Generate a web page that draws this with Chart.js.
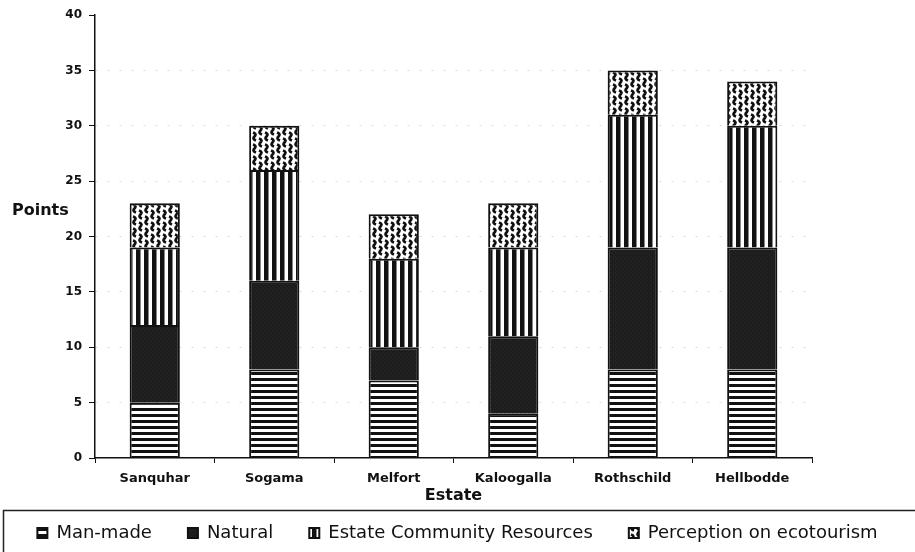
<!DOCTYPE html>
<html>
<head>
<meta charset="utf-8">
<script src="https://cdn.jsdelivr.net/npm/chart.js@4.4.1/dist/chart.umd.min.js"></script>
<style>
  html, body { margin: 0; padding: 0; background: #fff; }
</style>
</head>
<body>
<canvas id="chart1" width="915" height="552"></canvas>
<script>
// data
const estates = ['Sanquhar', 'Sogama', 'Melfort', 'Kaloogalla', 'Rothschild', 'Hellbodde'];
const manMade = [5, 8, 7, 4, 8, 8];
const natural = [7, 8, 3, 7, 11, 11];
const communityResources = [7, 10, 8, 8, 12, 11];
const perception = [4, 4, 4, 4, 4, 4];
const seriesNames = ['Man-made', 'Natural', 'Estate Community Resources', 'Perception on ecotourism'];
const yMin = 0;
const yMax = 40;
const yStep = 5;

// fill patterns, like the old black and white print
function makePattern(kind) {
    const c = document.createElement('canvas');
    const g = c.getContext('2d');
    if (kind === 'horizontal') {
        c.width = 6; c.height = 6;
        g.fillStyle = '#fff'; g.fillRect(0, 0, 6, 6);
        g.fillStyle = '#111'; g.fillRect(0, 0, 6, 3);
    } else if (kind === 'vertical') {
        c.width = 8; c.height = 8;
        g.fillStyle = '#fff'; g.fillRect(0, 0, 8, 8);
        g.fillStyle = '#111'; g.fillRect(0, 0, 4.5, 8);
    } else if (kind === 'wave') {
        c.width = 12; c.height = 12;
        g.fillStyle = '#fff'; g.fillRect(0, 0, 12, 12);
        g.strokeStyle = '#111'; g.lineWidth = 2.7;
        g.beginPath();
        for (let dy = -12; dy <= 12; dy += 12) {
            g.moveTo(1, 0.5 + dy); g.quadraticCurveTo(5, 2 + dy, 2.5, 4.5 + dy); g.quadraticCurveTo(0, 7 + dy, 4, 8.5 + dy);
            g.moveTo(7, 6.5 + dy); g.quadraticCurveTo(11, 8 + dy, 8.5, 10.5 + dy); g.quadraticCurveTo(6, 13 + dy, 10, 14.5 + dy);
        }
        g.stroke();
    } else {
        c.width = 4; c.height = 4;
        g.fillStyle = '#1d1d1d'; g.fillRect(0, 0, 4, 4);
        g.fillStyle = '#2b2b2b'; g.fillRect(1, 2, 1, 1); g.fillRect(3, 0, 1, 1);
    }
    return g.createPattern(c, 'repeat');
}

// frame round the legend and the horizontal "Points" label
const extras = {
    id: 'extras',
    afterDraw(chart) {
        const ctx = chart.ctx;
        ctx.save();
        ctx.strokeStyle = '#222';
        ctx.lineWidth = 1.5;
        ctx.strokeRect(3.5, 510.5, 930, 60);
        ctx.font = 'bold 16px "DejaVu Sans"';
        ctx.fillStyle = '#111';
        ctx.textAlign = 'left';
        ctx.textBaseline = 'middle';
        ctx.fillText('Points', 12, 211);
        ctx.restore();
    }
};

Chart.defaults.font.family = '"DejaVu Sans", sans-serif';
Chart.defaults.color = '#111';

const ctx = document.getElementById('chart1').getContext('2d');
const chart1 = new Chart(ctx, {
    type: 'bar',
    data: {
        labels: estates,
        datasets: [
            { label: seriesNames[0], data: manMade, backgroundColor: makePattern('horizontal') },
            { label: seriesNames[1], data: natural, backgroundColor: makePattern('solid') },
            { label: seriesNames[2], data: communityResources, backgroundColor: makePattern('vertical') },
            { label: seriesNames[3], data: perception, backgroundColor: makePattern('wave') }
        ].map(d => Object.assign(d, {
            borderColor: '#111',
            borderWidth: 2,
            barPercentage: 0.42,
            categoryPercentage: 1
        }))
    },
    options: {
        responsive: false,
        animation: false,
        devicePixelRatio: 1,
        layout: { padding: { top: 15, right: 0, left: 0, bottom: 0 } },
        plugins: {
            tooltip: { enabled: false },
            legend: {
                position: 'bottom',
                labels: {
                    boxWidth: 10,
                    boxHeight: 10,
                    padding: 36,
                    color: '#111',
                    font: { size: 18 }
                }
            }
        },
        scales: {
            x: {
                stacked: true,
                grid: { drawOnChartArea: false, tickLength: 5, tickColor: '#111' },
                border: { color: '#111', width: 1.5 },
                ticks: { padding: 8, color: '#111', font: { size: 13, weight: 'bold' } },
                title: {
                    display: true,
                    text: 'Estate',
                    color: '#111',
                    font: { size: 16, weight: 'bold' },
                    padding: { top: 0, bottom: -17 }
                },
                afterFit: function (scale) { scale.height = 30; }
            },
            y: {
                stacked: true,
                min: yMin,
                max: yMax,
                ticks: { stepSize: yStep, padding: 7, color: '#111', font: { size: 12, weight: 'bold' } },
                grid: {
                    color: c => (c.tick && (c.tick.value === yMax || c.tick.value === yMin)) ? 'rgba(0,0,0,0)' : 'rgba(0,0,0,0.14)',
                    tickColor: '#111',
                    tickLength: 6,
                    tickBorderDash: []
                },
                border: { color: '#111', width: 1.5, dash: [2, 10] },
                afterFit: function (scale) { scale.width = 95; }
            },
            // empty right axis, only keeps the plot clear of the right side
            spacer: {
                type: 'linear',
                position: 'right',
                grid: { display: false },
                border: { display: false },
                ticks: { display: false },
                afterFit: function (scale) { scale.width = 103; }
            }
        }
    },
    plugins: [extras]
});
</script>
</body>
</html>
